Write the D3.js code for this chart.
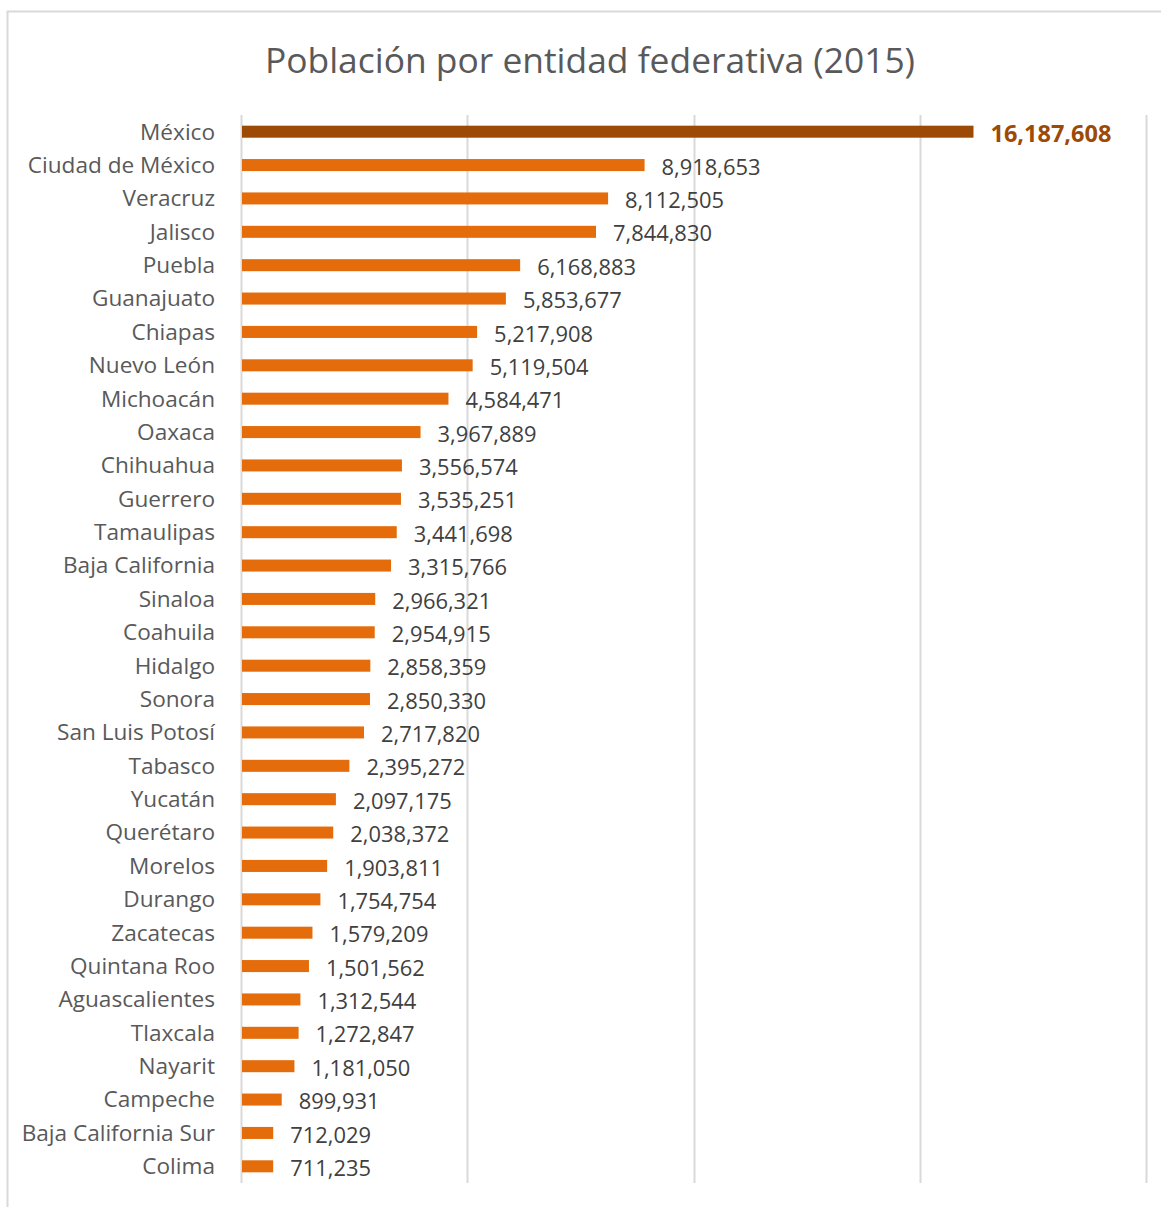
<!DOCTYPE html>
<html>
<head>
<meta charset="utf-8">
<script src="https://cdn.jsdelivr.net/npm/d3@7"></script>
<style>
body { margin: 0; background: #fff; }
svg { display: block; }
</style>
</head>
<body>
<svg id="chart" width="1161" height="1207"></svg>
<script>
const states = ["México","Ciudad de México","Veracruz","Jalisco","Puebla","Guanajuato","Chiapas","Nuevo León","Michoacán","Oaxaca","Chihuahua","Guerrero","Tamaulipas","Baja California","Sinaloa","Coahuila","Hidalgo","Sonora","San Luis Potosí","Tabasco","Yucatán","Querétaro","Morelos","Durango","Zacatecas","Quintana Roo","Aguascalientes","Tlaxcala","Nayarit","Campeche","Baja California Sur","Colima"];
const population = [16187608,8918653,8112505,7844830,6168883,5853677,5217908,5119504,4584471,3967889,3556574,3535251,3441698,3315766,2966321,2954915,2858359,2850330,2717820,2395272,2097175,2038372,1903811,1754754,1579209,1501562,1312544,1272847,1181050,899931,712029,711235];
const highlighted = ["México"];
const xTicks = [0, 5000000, 10000000, 15000000, 20000000];
const title = "Población por entidad federativa (2015)";

const data = states.map((s, i) => ({ name: s, value: population[i] }));
const svg = d3.select("#chart");
const font = "'Open Sans', 'Noto Sans', sans-serif";

// outer border
svg.append("rect").attr("x", 7.5).attr("y", 11.5).attr("width", 1170).attr("height", 1210)
  .attr("fill", "none").attr("stroke", "#d9d9d9").attr("stroke-width", 2);

const plotL = 241, plotR = 1146, plotT = 115, plotB = 1183;
const x = d3.scaleLinear().domain([0, 20000000]).range([plotL, plotR]);
const y = d3.scaleBand().domain(states).range([plotT, plotB]).paddingInner(0.64).paddingOuter(0.32);

// gridlines
svg.append("g").selectAll("line").data(xTicks).join("line")
  .attr("x1", d => Math.round(x(d)) + 0.5).attr("x2", d => Math.round(x(d)) + 0.5)
  .attr("y1", plotT).attr("y2", plotB)
  .attr("stroke", "#d9d9d9").attr("stroke-width", 2);

// title
svg.append("text").attr("x", 590).attr("y", 73).attr("text-anchor", "middle")
  .attr("font-family", font).attr("font-size", 35.4).attr("fill", "#595959").text(title);

// bars
svg.append("g").selectAll("rect").data(data).join("rect")
  .attr("x", x(0) + 1).attr("y", d => y(d.name))
  .attr("width", d => x(d.value) - x(0) - 1).attr("height", y.bandwidth())
  .attr("fill", d => highlighted.includes(d.name) ? "#9C4A06" : "#E46C0A");

// category labels
svg.append("g").selectAll("text").data(data).join("text")
  .attr("x", 215).attr("y", d => y(d.name) + y.bandwidth() / 2)
  .attr("dy", "0.35em").attr("text-anchor", "end")
  .attr("font-family", font).attr("font-size", 22.6).attr("fill", "#595959")
  .text(d => d.name);

// value labels
const fmt = d3.format(",");
svg.append("g").selectAll("text").data(data).join("text")
  .attr("x", d => x(d.value) + 17).attr("y", d => y(d.name) + y.bandwidth() / 2 + 2)
  .attr("dy", "0.35em")
  .attr("font-family", font)
  .attr("font-size", d => highlighted.includes(d.name) ? 23.5 : 21.9)
  .attr("font-weight", d => highlighted.includes(d.name) ? 700 : 400)
  .attr("fill", d => highlighted.includes(d.name) ? "#9C4A06" : "#404040")
  .text(d => fmt(d.value));
</script>
</body>
</html>
